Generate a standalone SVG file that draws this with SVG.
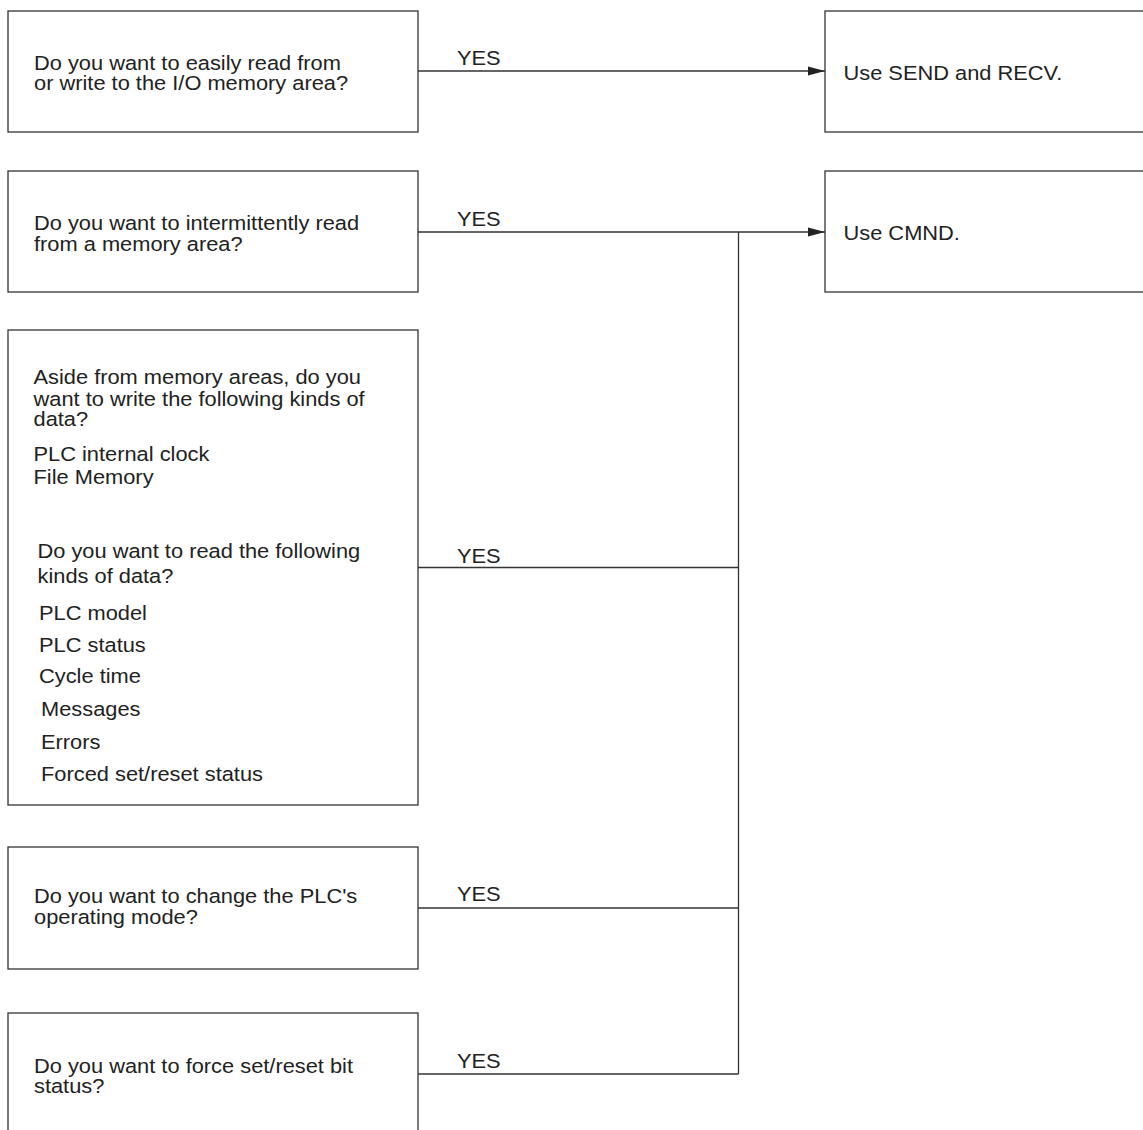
<svg xmlns="http://www.w3.org/2000/svg" width="1143" height="1130" viewBox="0 0 1143 1130">
<style>
.box{fill:#fff;stroke:#333;stroke-width:1.3}
.ln{fill:none;stroke:#333;stroke-width:1.3}
text{font-family:"Liberation Sans",Arial,Helvetica,sans-serif;font-size:19.5px;fill:#222}
</style>
<defs>
<marker id="ah" markerUnits="userSpaceOnUse" markerWidth="18" markerHeight="10" refX="17" refY="5" orient="auto">
<path d="M0,0.5 L17,5 L0,9.5 z" fill="#222"/>
</marker>
</defs>
<rect width="1143" height="1130" fill="#fff"/>
<g id="connectors">
<line class="ln" x1="418" y1="71" x2="825" y2="71" marker-end="url(#ah)"/>
<line class="ln" x1="418" y1="232" x2="825" y2="232" marker-end="url(#ah)"/>
<line class="ln" x1="418" y1="567.5" x2="738.5" y2="567.5"/>
<line class="ln" x1="418" y1="908" x2="738.5" y2="908"/>
<line class="ln" x1="418" y1="1074" x2="738.5" y2="1074"/>
<line class="ln" x1="738.5" y1="232" x2="738.5" y2="1074"/>
<text transform="matrix(1.12 0 0 1 457 65)">YES</text>
<text transform="matrix(1.12 0 0 1 457 226)">YES</text>
<text transform="matrix(1.12 0 0 1 457 562.5)">YES</text>
<text transform="matrix(1.12 0 0 1 457 901)">YES</text>
<text transform="matrix(1.12 0 0 1 457 1068)">YES</text>
</g>
<g id="q1">
<rect class="box" x="8" y="11" width="410" height="121"/>
<text transform="matrix(1.12 0 0 1 34 69.5)">Do you want to easily read from</text>
<text transform="matrix(1.12 0 0 1 34 90)">or write to the I/O memory area?</text>
</g>
<g id="q2">
<rect class="box" x="8" y="171" width="410" height="121"/>
<text transform="matrix(1.12 0 0 1 34 230)">Do you want to intermittently read</text>
<text transform="matrix(1.12 0 0 1 34 250.5)">from a memory area?</text>
</g>
<g id="q3">
<rect class="box" x="8" y="330" width="410" height="475"/>
<text transform="matrix(1.12 0 0 1 33.5 383.5)">Aside from memory areas, do you</text>
<text transform="matrix(1.12 0 0 1 33.5 405.5)">want to write the following kinds of</text>
<text transform="matrix(1.12 0 0 1 33.5 426)">data?</text>
<text transform="matrix(1.12 0 0 1 33.5 460.5)">PLC internal clock</text>
<text transform="matrix(1.12 0 0 1 33.5 484)">File Memory</text>
<text transform="matrix(1.12 0 0 1 37.5 557.5)">Do you want to read the following</text>
<text transform="matrix(1.12 0 0 1 37.5 583)">kinds of data?</text>
<text transform="matrix(1.12 0 0 1 39 620)">PLC model</text>
<text transform="matrix(1.12 0 0 1 39 652)">PLC status</text>
<text transform="matrix(1.12 0 0 1 39 683)">Cycle time</text>
<text transform="matrix(1.12 0 0 1 41 716)">Messages</text>
<text transform="matrix(1.12 0 0 1 41 748.5)">Errors</text>
<text transform="matrix(1.12 0 0 1 41 781)">Forced set/reset status</text>
</g>
<g id="q4">
<rect class="box" x="8" y="847" width="410" height="122"/>
<text transform="matrix(1.12 0 0 1 34 903)">Do you want to change the PLC's</text>
<text transform="matrix(1.12 0 0 1 34 924)">operating mode?</text>
</g>
<g id="q5">
<rect class="box" x="8" y="1013" width="410" height="140"/>
<text transform="matrix(1.12 0 0 1 34 1072.5)">Do you want to force set/reset bit</text>
<text transform="matrix(1.12 0 0 1 34 1093)">status?</text>
</g>
<g id="a1">
<rect class="box" x="825" y="11" width="330" height="121"/>
<text transform="matrix(1.12 0 0 1 843.5 80)">Use SEND and RECV.</text>
</g>
<g id="a2">
<rect class="box" x="825" y="171" width="330" height="121"/>
<text transform="matrix(1.12 0 0 1 843.5 240)">Use CMND.</text>
</g>
</svg>
